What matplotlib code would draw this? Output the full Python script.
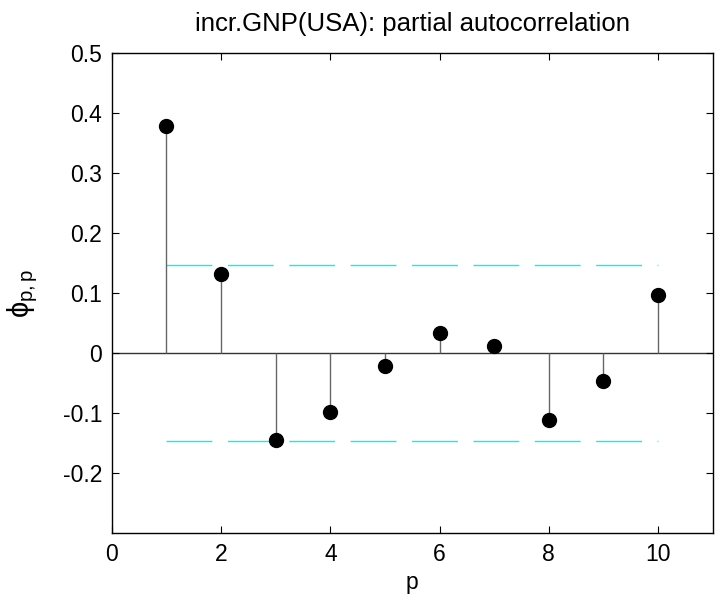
import matplotlib.pyplot as plt

plt.rcParams['font.family'] = ['Liberation Sans', 'DejaVu Sans']
plt.rcParams['mathtext.fontset'] = 'custom'
plt.rcParams['mathtext.rm'] = 'Liberation Sans'
plt.rcParams['mathtext.it'] = 'Liberation Sans'

lags = [1, 2, 3, 4, 5, 6, 7, 8, 9, 10]
pacf = [0.378, 0.131, -0.145, -0.098, -0.022, 0.034, 0.011, -0.112, -0.046, 0.097]
conf_bound = 0.147
xticks = [0, 2, 4, 6, 8, 10]
yticks = [-0.2, -0.1, 0, 0.1, 0.2, 0.3, 0.4, 0.5]
ytick_labels = ['-0.2', '-0.1', '0', '0.1', '0.2', '0.3', '0.4', '0.5']

fig = plt.figure(figsize=(7.17, 6.03), dpi=100)
ax = fig.add_axes([0.156, 0.116, 0.838, 0.796])

# zero baseline across the whole axes
ax.axhline(0, color='#333333', lw=1.0, zorder=1)

# stems and markers
ax.vlines(lags, 0, pacf, color='#666666', lw=1.0, zorder=2)
ax.plot(lags, pacf, 'o', color='black', markersize=10, zorder=3)

# significance bounds
for b in (conf_bound, -conf_bound):
    ax.plot([lags[0], lags[-1]], [b, b], color='#11eeee', lw=1.0,
            dashes=(33, 11.2), zorder=1)

ax.set_xlim(0, 11)
ax.set_ylim(-0.3, 0.5)
ax.set_xticks(xticks)
ax.set_yticks(yticks)
ax.set_yticklabels(ytick_labels)
ax.tick_params(direction='in', top=True, right=True, labelsize=16.5,
               length=5, width=0.8, pad=7)
for s in ax.spines.values():
    s.set_linewidth(1.0)

ax.set_title('incr.GNP(USA): partial autocorrelation', fontsize=18.5, pad=16)
ax.set_xlabel('p', fontsize=16.5)
ax.set_ylabel(r'$\phi_{p,p}$', fontsize=21, labelpad=16)

fig.savefig('out.png', dpi=100)
